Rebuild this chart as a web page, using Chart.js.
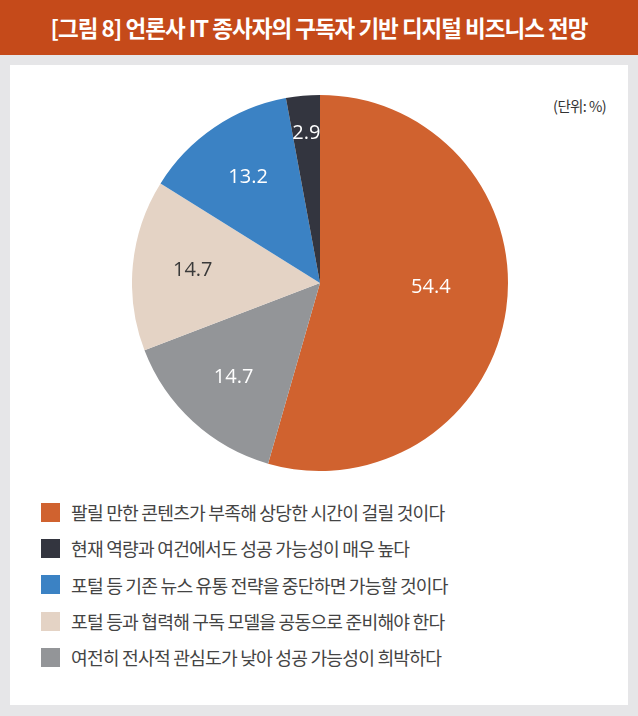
<!DOCTYPE html>
<html>
<head>
<meta charset="utf-8">
<script src="https://cdn.jsdelivr.net/npm/chart.js@4/dist/chart.umd.min.js"></script>
<style>
  html, body { margin: 0; padding: 0; }
  body { width: 638px; height: 716px; background: #e6e6e8; position: relative; overflow: hidden;
    font-family: "Noto Sans CJK KR", "Noto Sans", sans-serif; }
  #header { position: absolute; left: 0; top: 0; width: 638px; height: 55px; background: #c54a1a;
    color: #fff; font-weight: 700; font-size: 22.5px; letter-spacing: -1px; text-align: center; line-height: 55px; }
  #panel { position: absolute; left: 10px; top: 65px; width: 618px; height: 640px; background: #fff; }
  #unit { position: absolute; right: 22px; top: 30px; font-size: 14.5px; color: #333; letter-spacing: -0.6px; }
  #chart-box { position: absolute; left: 122px; top: 30px; width: 376px; height: 376px; }
  #legend { position: absolute; left: 31px; top: 429px; }
  .item { display: flex; align-items: center; height: 36.3px; font-size: 18.2px; color: #444; letter-spacing: -0.8px; }
  .swatch { width: 19px; height: 19px; margin-right: 11px; flex: none; }
</style>
</head>
<body>
<div id="header">[그림 8] 언론사 IT 종사자의 구독자 기반 디지털 비즈니스 전망</div>
<div id="panel">
  <div id="unit">(단위: %)</div>
  <div id="chart-box"><canvas id="pie"></canvas></div>
  <div id="legend"></div>
</div>
<script>
// slices in drawing order, clockwise from 12 o'clock
const categories = [
  "팔릴 만한 콘텐츠가 부족해 상당한 시간이 걸릴 것이다",
  "여전히 전사적 관심도가 낮아 성공 가능성이 희박하다",
  "포털 등과 협력해 구독 모델을 공동으로 준비해야 한다",
  "포털 등 기존 뉴스 유통 전략을 중단하면 가능할 것이다",
  "현재 역량과 여건에서도 성공 가능성이 매우 높다"
];
const values = [54.4, 14.7, 14.7, 13.2, 2.9];
const colors = ["#d0622f", "#939598", "#e4d3c5", "#3b82c4", "#33353f"];
const label_colors = ["#fff", "#fff", "#3a3a3a", "#fff", "#fff"];
// legend lists the slices in a different order
const legend_order = [0, 4, 3, 2, 1];

const legend_elem = document.getElementById("legend");
legend_order.forEach((i) => {
  const row = document.createElement("div");
  row.className = "item";
  row.innerHTML = '<span class="swatch" style="background:' + colors[i] + '"></span>' + categories[i];
  legend_elem.appendChild(row);
});

const slice_labels = {
  id: "slice_labels",
  afterDatasetsDraw(chart) {
    const ctx = chart.ctx;
    const meta = chart.getDatasetMeta(0);
    ctx.save();
    ctx.font = "20px 'Open Sans', sans-serif";
    ctx.textAlign = "center";
    ctx.textBaseline = "middle";
    meta.data.forEach((arc, i) => {
      // big slice label sits a little above its bisector, as in the print
      const mid = (arc.startAngle + arc.endAngle) / 2 - (values[i] > 50 ? 0.1 : 0);
      const frac = values[i] < 5 ? 0.8 : (values[i] > 50 ? 0.59 : 0.68);
      const r = arc.outerRadius * frac;
      ctx.fillStyle = label_colors[i];
      ctx.fillText(values[i].toFixed(1), arc.x + Math.cos(mid) * r, arc.y + Math.sin(mid) * r);
    });
    ctx.restore();
  }
};

new Chart(document.getElementById("pie"), {
  type: "pie",
  data: {
    labels: categories,
    datasets: [{
      data: values,
      backgroundColor: colors,
      borderWidth: 0
    }]
  },
  options: {
    responsive: true,
    maintainAspectRatio: false,
    animation: false,
    layout: { padding: 0 },
    plugins: {
      legend: { display: false },
      tooltip: { enabled: false }
    }
  },
  plugins: [slice_labels]
});
</script>
</body>
</html>
